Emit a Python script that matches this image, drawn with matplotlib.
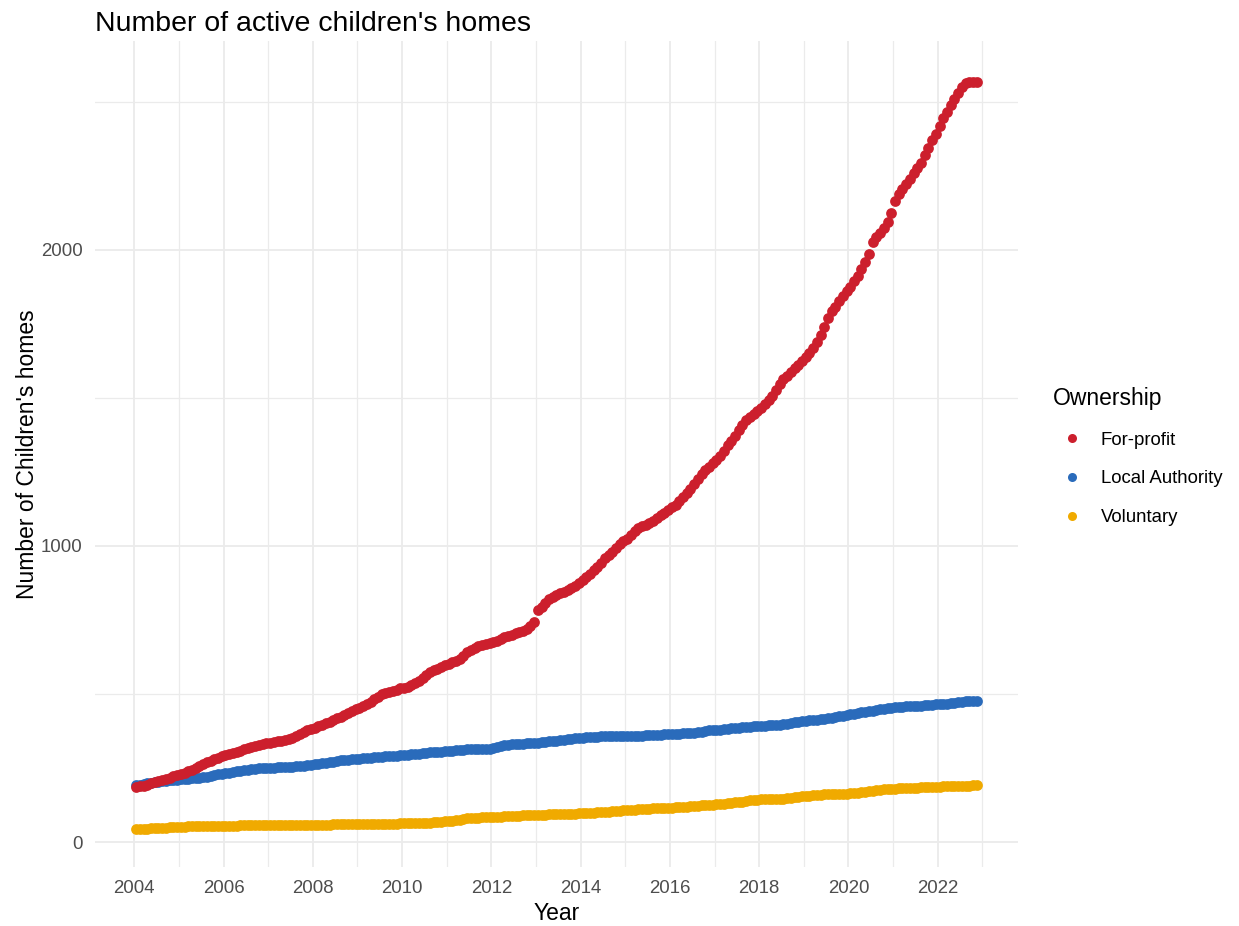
import numpy as np
import pandas as pd
from matplotlib import pyplot as plt
from matplotlib.lines import Line2D

plt.rcParams['font.family'] = ['Liberation Sans', 'DejaVu Sans']

# monthly counts, Jan 2004 .. Nov 2022
months = pd.date_range('2004-01-01', '2022-11-01', freq='MS')

for_profit = [
    186, 188, 191, 194, 198, 202, 206, 210, 214, 218, 222, 226,      # 2004
    229, 233, 239, 245, 251, 257, 264, 269, 275, 280, 285, 290,      # 2005
    294, 298, 302, 306, 309, 313, 317, 321, 325, 328, 331, 334,      # 2006
    335, 337, 340, 343, 346, 349, 353, 358, 364, 371, 377, 383,      # 2007
    387, 391, 396, 401, 406, 413, 419, 424, 430, 437, 443, 449,      # 2008
    453, 459, 466, 474, 482, 491, 499, 503, 507, 511, 515, 519,      # 2009
    521, 525, 530, 537, 544, 553, 563, 573, 580, 586, 592, 598,      # 2010
    602, 607, 612, 619, 630, 643, 650, 656, 661, 665, 669, 673,      # 2011
    676, 680, 685, 691, 696, 701, 705, 709, 713, 720, 730, 742,      # 2012
    785, 795, 808, 820, 828, 834, 840, 846, 852, 858, 866, 875,      # 2013
    886, 895, 905, 918, 930, 942, 958, 968, 980, 993, 1005, 1016,    # 2014
    1024, 1036, 1050, 1060, 1066, 1071, 1077, 1086, 1094, 1103, 1113, 1123,  # 2015
    1130, 1140, 1152, 1165, 1178, 1193, 1210, 1226, 1242, 1256, 1268, 1280,  # 2016
    1290, 1305, 1322, 1340, 1355, 1372, 1390, 1408, 1424, 1437, 1446, 1455,  # 2017
    1466, 1478, 1492, 1506, 1528, 1548, 1563, 1575, 1588, 1600, 1612, 1626,  # 2018
    1638, 1652, 1668, 1688, 1712, 1738, 1770, 1792, 1808, 1828, 1845, 1860,  # 2019
    1875, 1895, 1912, 1935, 1958, 1985, 2025, 2042, 2058, 2075, 2095, 2125,  # 2020
    2165, 2190, 2205, 2222, 2240, 2258, 2275, 2292, 2320, 2345, 2370, 2392,  # 2021
    2418, 2444, 2466, 2488, 2508, 2530, 2550, 2562, 2566, 2568, 2568,        # 2022
]

local_authority = [
    192, 194, 196, 198, 200, 202, 204, 205, 207, 209, 210, 211,
    212, 213, 214, 215, 216, 217, 219, 221, 224, 227, 229, 231,
    233, 235, 237, 239, 241, 243, 245, 246, 248, 249, 250, 251,
    252, 252, 253, 253, 254, 255, 255, 256, 257, 258, 260, 262,
    263, 264, 266, 268, 270, 272, 274, 276, 277, 279, 280, 281,
    282, 283, 284, 285, 287, 288, 289, 290, 290, 291, 292, 293,
    293, 294, 296, 297, 299, 301, 302, 303, 304, 305, 306, 307,
    308, 309, 310, 311, 312, 313, 314, 314, 315, 315, 316, 316,
    317, 320, 325, 327, 328, 330, 331, 332, 333, 334, 335, 335,
    336, 337, 338, 340, 341, 343, 344, 346, 347, 349, 350, 352,
    353, 354, 354, 355, 356, 357, 357, 357, 358, 358, 358, 359,
    359, 359, 360, 360, 360, 361, 361, 362, 362, 363, 364, 364,
    365, 365, 366, 367, 368, 369, 370, 371, 373, 375, 377, 378,
    379, 380, 382, 383, 385, 386, 387, 388, 389, 390, 391, 392,
    393, 393, 394, 395, 396, 397, 398, 400, 402, 404, 406, 408,
    410, 411, 412, 414, 415, 417, 418, 420, 422, 425, 427, 430,
    432, 434, 436, 438, 440, 442, 444, 446, 448, 450, 452, 454,
    455, 456, 457, 458, 459, 460, 460, 461, 462, 463, 464, 465,
    466, 467, 468, 470, 471, 473, 474, 475, 476, 477, 478,
]

voluntary = [
    43, 44, 45, 46, 47, 47, 48, 49, 49, 50, 51, 51,
    52, 52, 53, 53, 53, 54, 54, 54, 55, 55, 55, 56,
    56, 56, 56, 56, 57, 57, 57, 57, 57, 57, 58, 58,
    58, 58, 58, 58, 58, 58, 58, 59, 59, 59, 59, 59,
    59, 59, 59, 59, 59, 60, 60, 60, 60, 60, 60, 60,
    60, 60, 60, 61, 61, 61, 61, 62, 62, 62, 62, 63,
    63, 63, 63, 64, 64, 64, 65, 66, 67, 68, 69, 70,
    71, 72, 74, 76, 78, 80, 81, 82, 83, 84, 85, 85,
    86, 86, 86, 87, 87, 88, 88, 89, 90, 90, 91, 92,
    92, 93, 93, 94, 94, 95, 95, 95, 96, 96, 96, 97,
    97, 98, 99, 100, 101, 102, 102, 103, 104, 105, 106, 107,
    108, 109, 110, 111, 112, 113, 113, 114, 114, 115, 115, 116,
    116, 117, 118, 119, 120, 121, 122, 123, 124, 125, 126, 127,
    128, 129, 130, 131, 132, 134, 135, 137, 139, 141, 142, 143,
    144, 144, 145, 145, 146, 147, 147, 148, 150, 152, 153, 155,
    156, 157, 158, 159, 160, 161, 161, 162, 163, 163, 164, 164,
    165, 166, 167, 168, 170, 172, 173, 175, 176, 178, 179, 180,
    181, 182, 182, 183, 183, 184, 184, 185, 185, 186, 186, 187,
    187, 188, 188, 189, 189, 190, 190, 191, 191, 192, 192,
]

labels = ['For-profit', 'Local Authority', 'Voluntary']
colors = ['#CC1F2D', '#2A6BBB', '#F0AA00']

# decimal year at mid-month
x = months.year + (months.month - 0.5) / 12

fig = plt.figure(figsize=(12.39, 9.26), dpi=100)
ax = fig.add_axes([0.0767, 0.0637, 0.745, 0.892])

ax.scatter(x, local_authority, s=60, color=colors[1], linewidths=0, zorder=3)
ax.scatter(x, for_profit, s=60, color=colors[0], linewidths=0, zorder=3)
ax.scatter(x, voluntary, s=60, color=colors[2], linewidths=0, zorder=3)

ax.set_xlim(2003.12, 2023.8)
ax.set_ylim(-84, 2705)

ax.set_xticks(np.arange(2004, 2023, 2))
ax.set_xticks(np.arange(2005, 2024, 2), minor=True)
ax.set_yticks([0, 1000, 2000])
ax.set_yticks([500, 1500, 2500], minor=True)

ax.grid(True, which='major', color='#EBEBEB', linewidth=1.3)
ax.grid(True, which='minor', color='#EBEBEB', linewidth=0.9)
ax.set_axisbelow(True)
for s in ax.spines.values():
    s.set_visible(False)
ax.tick_params(which='both', length=0)
ax.tick_params(axis='x', labelsize=13.4, labelcolor='#4D4D4D', pad=9)
ax.tick_params(axis='y', labelsize=13.4, labelcolor='#4D4D4D', pad=9)

ax.set_xlabel('Year', fontsize=16.5, labelpad=4)
ax.set_ylabel("Number of Children's homes", fontsize=16.5, labelpad=1)
ax.set_title("Number of active children's homes", fontsize=20.5, loc='left', pad=7)

handles = [Line2D([], [], marker='o', linestyle='', markersize=6.5,
                  markerfacecolor=c, markeredgewidth=0) for c in colors]
leg = ax.legend(handles, labels, title='Ownership', loc='center left',
                bbox_to_anchor=(1.030, 0.497), frameon=False, fontsize=13.4,
                title_fontsize=16.5, alignment='left', labelspacing=1.18,
                handletextpad=0.55, borderaxespad=0)

fig.savefig('out.png', dpi=100)
